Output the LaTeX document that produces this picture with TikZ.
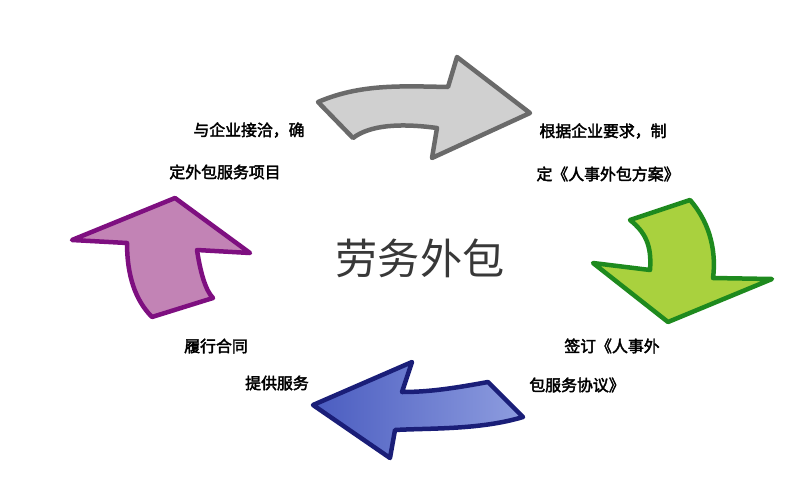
\documentclass[tikz,border=0pt]{standalone}
\usepackage{fontspec}
\newfontfamily\cjk{Noto Sans CJK SC}[AutoFakeBold=2.5]
\definecolor{grayfill}{HTML}{D0D0D0}
\definecolor{grayline}{HTML}{6A6A6A}
\definecolor{greenfill}{HTML}{A9D13E}
\definecolor{greenline}{HTML}{1E8A1E}
\definecolor{bluedark}{HTML}{4A5CC0}
\definecolor{bluelight}{HTML}{8E9DDF}
\definecolor{blueline}{HTML}{1A1E78}
\definecolor{purplefill}{HTML}{C283B5}
\definecolor{purpleline}{HTML}{7E0F80}
\tikzset{
	arrowshape/.style={line width=3.2pt, line join=round},
	steplabel/.style={font=\cjk\bfseries\fontsize{11.3}{13}\selectfont, text=black, inner sep=0pt}
}

\begin{document}
\begin{tikzpicture}[x=0.025cm,y=-0.025cm]
	\useasboundingbox (0,0) rectangle (800,480);

	\draw[arrowshape,draw=grayline,fill=grayfill] (318,102) .. controls (360,84) and (400,86) .. (448,87) -- (457,57) -- (530,113) -- (432,158) -- (437,128) .. controls (400,123) and (370,125) .. (353,138) -- cycle;	%top arrow

	\draw[arrowshape,draw=greenline,fill=greenfill] (630,220) -- (690,200) .. controls (712,225) and (716,255) .. (713,278) -- (772,279) -- (668,322) -- (593,263) -- (650,270) .. controls (652,245) and (645,232) .. (630,220) -- cycle;	%right arrow

	\draw[arrowshape,draw=blueline,left color=bluedark,right color=bluelight] (523,417) -- (488,382) .. controls (455,388) and (430,392) .. (402,392) -- (412,362) -- (313,405) -- (390,458) -- (395,430) .. controls (430,428) and (480,430) .. (523,417) -- cycle;	%bottom arrow

	\draw[arrowshape,draw=purpleline,fill=purplefill] (72,240) -- (175,198) -- (250,253) -- (197,250) .. controls (200,270) and (205,290) .. (213,298) -- (152,317) .. controls (135,300) and (127,275) .. (127,243) -- cycle;	%left arrow

	%LABELS
	\node[font=\cjk\fontsize{30}{34}\selectfont, text=black!78] (title) at (420,258) {劳务外包};
	\node[steplabel] (topa) at (249,130) {与企业接洽，确};
	\node[steplabel] (topb) at (225,172) {定外包服务项目};
	\node[steplabel] (righta) at (603,131) {根据企业要求，制};
	\node[steplabel] (rightb) at (608,174) {定《人事外包方案》};
	\node[steplabel] (bottoma) at (612,346) {签订《人事外};
	\node[steplabel] (bottomb) at (577,385) {包服务协议》};
	\node[steplabel] (lefta) at (216,346) {履行合同};
	\node[steplabel] (leftb) at (277,383) {提供服务};
\end{tikzpicture}
\end{document}
